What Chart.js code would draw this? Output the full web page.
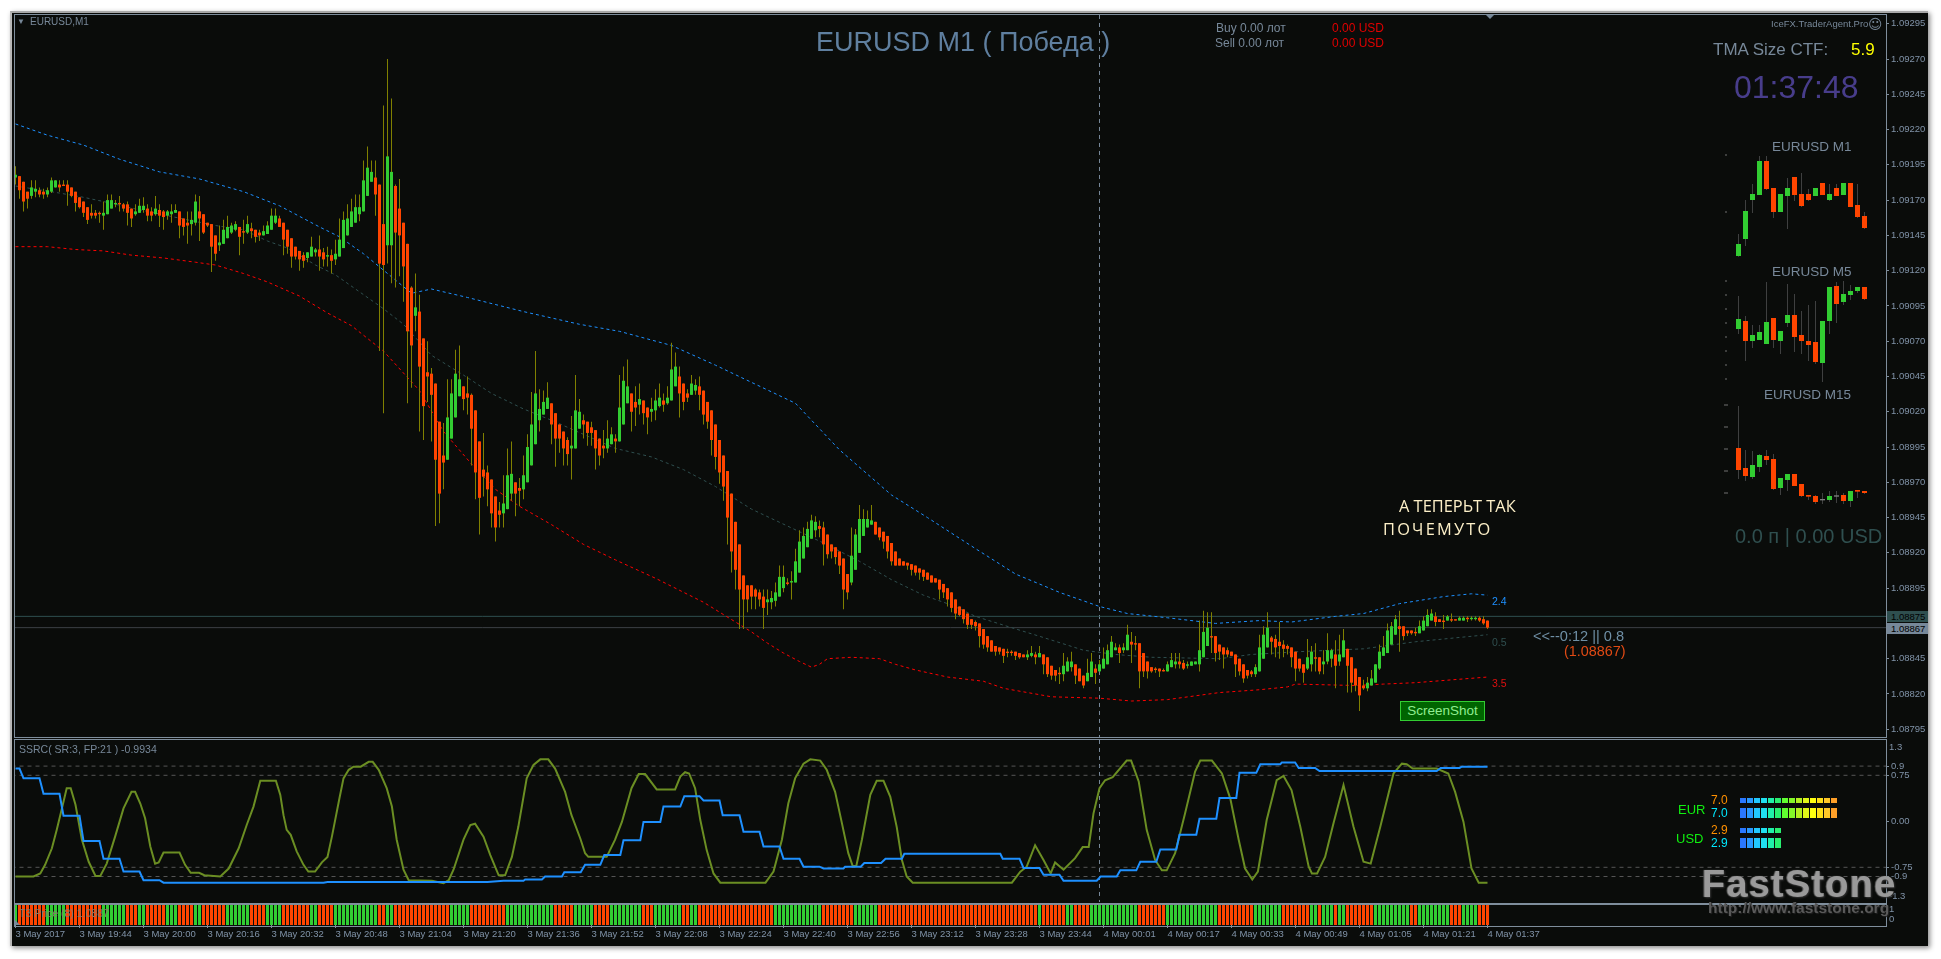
<!DOCTYPE html>
<html lang="en">
<head>
    <meta charset="UTF-8">
    <title>EURUSD M1</title>
    <script src="https://cdn.jsdelivr.net/npm/chart.js@4"></script>
    <style>
        html, body { margin: 0; background: #fff; overflow: hidden; }
        #page { position: relative; width: 1941px; height: 959px; font-family: "Liberation Sans", sans-serif; }
        #window { position: absolute; left: 10px; top: 11px; width: 1918px; height: 935px; background: #0a0c0a;
                  border-top: 2px solid #a8a8a8; border-left: 2px solid #b8b8b8; box-sizing: border-box;
                  box-shadow: 2px 2px 5px #8a8a8a; }
        .panel { position: absolute; left: 14px; width: 1871px; border: 1px solid #7f8e9c; }
        canvas { position: absolute; }
        .t { position: absolute; white-space: nowrap; line-height: 1; transform: translateY(-50%); }
        .axis { color: #8093a8; font-size: 9.5px; }
        .dim { color: #778899; }
        #shot { position: absolute; left: 1400px; top: 701px; width: 85px; height: 20px; box-sizing: border-box;
                background: #006400; border: 1px solid #32cd32; color: #90ee90; font-size: 13.5px; line-height: 18px; text-align: center; }
        .tag { position: absolute; left: 1887px; width: 41px; height: 11px; color: #000; font-size: 9.5px; line-height: 11px; padding-left: 4px; box-sizing: border-box; }
        #mark { color: #9a9a9a; font-size: 38px; font-weight: bold; letter-spacing: 1.2px; text-shadow: 1px 1px 2px #333, -1px 0 1px #777; }
        #url { color: #5a5a5a; font-size: 15.5px; font-weight: bold; text-shadow: 1px 1px 1px #222; }
    </style>
</head>
<body>
<div id="page">
    <div id="window"></div>
    <div class="panel" style="top:14px;height:722px"></div>
    <div class="panel" style="top:739px;height:163px"></div>
    <div class="panel" style="top:904px;height:21px"></div>

    <canvas id="mainChart" width="1913" height="722" style="left:15px;top:15px"></canvas>
    <canvas id="ssrcChart" width="1913" height="162" style="left:15px;top:740px"></canvas>
    <canvas id="t3Chart" width="1913" height="40" style="left:15px;top:905px"></canvas>
    <canvas id="miniM1" width="160" height="110" style="left:1720px;top:150px"></canvas>
    <canvas id="miniM5" width="160" height="107" style="left:1720px;top:277px"></canvas>
    <canvas id="miniM15" width="160" height="109" style="left:1720px;top:403px"></canvas>
    <canvas id="strengthChart" width="115" height="56" style="left:1735px;top:795px"></canvas>

    <div class="t dim" style="left:17px;top:22px;font-size:8px">▼</div>
    <div class="t dim" style="left:30px;top:22px;font-size:10px">EURUSD,M1</div>
    <div class="t" style="left:816px;top:42px;font-size:27px;color:#5f7f9f">EURUSD M1 ( Победа )</div>
    <div class="t dim" style="left:1216px;top:28px;font-size:12px">Buy 0.00 лот</div>
    <div class="t dim" style="left:1215px;top:43px;font-size:12px">Sell 0.00 лот</div>
    <div class="t" style="left:1332px;top:28px;font-size:12px;color:#e00000">0.00 USD</div>
    <div class="t" style="left:1332px;top:43px;font-size:12px;color:#e00000">0.00 USD</div>
    <div class="t dim" style="left:1771px;top:24px;font-size:9.5px">IceFX.TraderAgent.Pro</div>
    <div class="t dim" style="left:1868px;top:24px;font-size:14px;font-family:'DejaVu Sans'">☺</div>
    <div class="t dim" style="left:1713px;top:49px;font-size:17px">TMA Size CTF:</div>
    <div class="t" style="left:1851px;top:49px;font-size:17px;color:#ffff00">5.9</div>
    <div class="t" style="left:1734px;top:87px;font-size:32px;color:#483d8b">01:37:48</div>
    <div class="t dim" style="left:1772px;top:147px;font-size:13.5px">EURUSD M1</div>
    <div class="t dim" style="left:1772px;top:272px;font-size:13.5px">EURUSD M5</div>
    <div class="t dim" style="left:1764px;top:395px;font-size:13.5px">EURUSD M15</div>
    <div class="t" style="left:1735px;top:536px;font-size:20px;color:#2f4f4f">0.0 п | 0.00 USD</div>

    <div class="t" style="left:1399px;top:506px;font-size:16.4px;color:#fdf0c8;font-family:'Open Sans'">А ТЕПЕРЬТ ТАК</div>
    <div class="t" style="left:1383px;top:529px;font-size:16.4px;letter-spacing:2.2px;color:#fdf0c8;font-family:'Open Sans'">ПОЧЕМУТО</div>
    <div class="t" style="left:1492px;top:601px;font-size:10.5px;color:#1e90ff">2.4</div>
    <div class="t" style="left:1492px;top:642px;font-size:10.5px;color:#2f4f4f">0.5</div>
    <div class="t" style="left:1492px;top:683px;font-size:10.5px;color:#e01010">3.5</div>
    <div class="t" style="left:1533px;top:636px;font-size:14.6px;color:#6f8fa5">&lt;&lt;--0:12 || 0.8</div>
    <div class="t" style="left:1564px;top:651px;font-size:14.4px;color:#e04a14">(1.08867)</div>
    <div id="shot">ScreenShot</div>

    <div class="tag" style="top:611px;background:#2f4f4f">1.08875</div>
    <div class="tag" style="top:623px;background:#778899">1.08867</div>

    <div class="t dim" style="left:19px;top:749px;font-size:10.5px">SSRC( SR:3, FP:21 ) -0.9934</div>
    <div class="t" style="left:19px;top:913px;font-size:10.5px;color:#8a7a6a">T3 Price (8) 1.0887</div>
    <div class="t axis" style="left:1889px;top:747px">1.3</div>
    <div class="t axis" style="left:1889px;top:896px">-1.3</div>
    <div class="t axis" style="left:1889px;top:909px">1</div>
    <div class="t axis" style="left:1889px;top:919px">0</div>

    <div class="t" style="left:1678px;top:809px;font-size:13px;color:#10f010">EUR</div>
    <div class="t" style="left:1676px;top:838px;font-size:13px;color:#10f010">USD</div>
    <div class="t" style="left:1711px;top:800px;font-size:12px;color:#ff9000" id="eurTop"></div>
    <div class="t" style="left:1711px;top:813px;font-size:12px;color:#00e8ff" id="eurBottom"></div>
    <div class="t" style="left:1711px;top:830px;font-size:12px;color:#ff9000" id="usdTop"></div>
    <div class="t" style="left:1711px;top:843px;font-size:12px;color:#00e8ff" id="usdBottom"></div>

    <div class="t" id="mark" style="left:1702px;top:884px">FastStone</div>
    <div class="t" id="url" style="left:1708px;top:908px">http://www.faststone.org</div>

    <div style="position:absolute;left:1486px;top:15px;border-left:4px solid transparent;border-right:4px solid transparent;border-top:4px solid #778899"></div>
    <div style="position:absolute;left:15px;top:920px;border-left:5px solid #778899;border-top:5px solid transparent"></div>
</div>

<script type="text/javascript">
    // candle prices in points above 1.08000
    const opens = [
        1186,1187,1183,1176,1173,1176,1177,1176,1174,1176, 1179,1181,1181,1181,1179,1176,1172,1169,1165,1161,
        1161,1161,1159,1160,1164,1167,1168,1167,1167,1164, 1160,1161,1163,1164,1162,1160,1163,1162,1159,1160,
        1161,1162,1157,1154,1153,1154,1162,1160,1154,1153, 1145,1138,1139,1143,1147,1149,1151,1148,1147,1150,
        1149,1147,1145,1146,1149,1154,1157,1154,1149,1143, 1137,1134,1131,1129,1130,1133,1135,1133,1130,1131,
        1128,1130,1136,1145,1151,1154,1160,1162,1173,1183, 1186,1181,1153,1138,1138,1180,1164,1154,1139,1108,
        1088,1091,1072,1048,1047,1040,1013,989,986,1001, 1016,1031,1038,1033,1032,1021,999,979,977,972,
        960,950,948,951,962,970,966,965,970,982, 997,1014,1018,1022,1026,1019,1011,1006,1000,994,
        994,1008,1014,1013,1009,1007,1001,996,994,997, 1001,999,1011,1026,1033,1027,1025,1028,1023,1020,
        1021,1024,1028,1026,1028,1038,1045,1040,1033,1032, 1035,1038,1035,1027,1021,1011,1000,989,978,962,
        942,926,904,897,897,894,892,889,885,885, 886,889,895,899,899,899,906,916,924,930,
        936,939,938,933,926,924,921,916,905,899, 908,920,932,938,940,942,938,935,932,927,
        921,916,914,913,912,911,909,908,906,904, 902,901,898,895,892,887,882,880,877,873,
        871,870,866,861,858,854,853,852,850,850, 850,849,848,846,847,848,846,848,846,840,
        837,835,834,836,839,841,838,833,829,832, 838,836,838,841,846,851,853,851,851,857,
        856,856,849,843,839,838,838,837,836,839, 841,843,842,840,840,841,841,846,854,861,
        861,855,853,851,850,848,845,841,837,836, 834,836,845,853,860,859,857,855,854,853,
        850,845,841,838,841,846,846,841,843,845, 848,843,846,852,846,838,832,826,824,826,
        828,838,847,849,855,862,868,868,865,865, 864,863,865,868,872,875,873,872,872,873,
        873,872,872,874,873,873,874,873,872
    ];
    const closes = [
        1188,1177,1169,1171,1179,1178,1174,1174,1177,1184, 1184,1179,1180,1176,1173,1168,1165,1161,1156,1159,
        1159,1160,1161,1170,1170,1168,1167,1164,1161,1157, 1162,1166,1166,1159,1159,1164,1159,1158,1162,1162,
        1163,1152,1151,1152,1156,1169,1157,1147,1152,1137, 1132,1140,1149,1151,1152,1153,1144,1147,1153,1148,
        1144,1145,1148,1152,1159,1159,1151,1142,1137,1130, 1130,1128,1127,1133,1137,1135,1130,1128,1131,1127,
        1132,1142,1156,1157,1162,1165,1165,1184,1193,1190, 1174,1125,1124,1201,1190,1147,1145,1123,1077,1067,
        1094,1052,1024,1045,1032,986,962,984,1016,1033, 1047,1043,1029,1030,1008,977,959,974,965,948,
        938,947,955,975,976,962,964,975,995,1011, 1033,1022,1027,1030,1011,1001,1001,994,990,996,
        1021,1020,1011,1005,1005,994,989,994,1001,1004, 999,1023,1042,1038,1020,1023,1029,1019,1016,1022,
        1028,1030,1025,1030,1050,1052,1033,1027,1030,1040, 1039,1032,1018,1013,1000,988,977,967,945,921,
        908,894,887,887,889,889,887,881,887,888, 892,903,903,898,900,914,928,932,937,943,
        942,937,926,919,921,917,911,894,892,918, 933,944,944,944,943,933,931,928,921,914,
        911,911,911,911,908,906,906,903,901,899, 899,894,892,887,881,877,876,873,869,869,
        868,861,855,853,850,850,850,847,849,849, 847,846,846,848,849,846,849,841,834,833,
        833,834,840,843,843,833,829,826,835,843, 835,841,845,851,857,853,849,853,862,855,
        855,836,836,836,836,837,836,836,841,844, 843,841,838,841,843,843,851,864,867,860,
        849,850,848,848,847,841,836,831,833,834, 839,853,862,867,857,853,854,852,852,846,
        838,838,835,846,850,845,836,843,851,851, 840,848,858,840,828,826,819,824,828,831,
        841,850,853,865,868,873,866,861,863,863, 863,868,872,876,877,871,871,871,875,872,
        872,874,874,873,874,874,872,870,867
    ];
    const highs = [
        1194,1187,1183,1176,1184,1184,1179,1178,1179,1186, 1184,1184,1184,1184,1179,1176,1172,1169,1165,1167,
        1163,1162,1169,1174,1174,1170,1173,1168,1169,1164, 1167,1171,1172,1167,1165,1173,1167,1163,1163,1167,
        1167,1162,1157,1162,1162,1174,1173,1160,1154,1153, 1145,1152,1156,1159,1154,1155,1151,1156,1159,1154,
        1149,1149,1152,1155,1164,1164,1159,1154,1149,1143, 1137,1134,1133,1133,1144,1136,1145,1136,1137,1135,
        1142,1157,1162,1167,1171,1174,1174,1198,1208,1198, 1198,1181,1237,1270,1242,1181,1185,1154,1139,1109,
        1118,1103,1072,1070,1051,1040,1013,1012,1043,1043, 1064,1067,1038,1045,1033,1021,999,1005,982,972,
        960,956,975,994,999,970,973,989,1004,1034, 1063,1036,1035,1041,1026,1019,1011,1006,1002,1017,
        1046,1029,1018,1013,1013,1007,1001,1007,1014,1009, 1004,1046,1052,1057,1033,1038,1040,1028,1023,1030,
        1036,1040,1033,1038,1069,1062,1052,1040,1036,1046, 1043,1045,1035,1027,1021,1011,1000,989,978,962,
        942,926,904,897,897,895,894,894,894,893, 899,911,911,902,907,923,936,938,942,947,
        946,943,942,933,926,924,921,916,905,938, 937,954,951,950,954,942,938,935,932,927,
        921,916,914,913,912,911,909,908,906,904, 902,901,898,895,892,887,882,880,877,873,
        872,870,866,861,858,854,853,852,852,851, 850,849,848,851,854,850,854,848,846,840,
        837,839,849,846,850,841,838,833,845,849, 841,844,853,855,861,856,855,856,869,864,
        861,856,849,843,839,839,838,838,843,849, 849,849,844,843,843,843,872,879,878,878,
        861,855,853,853,850,848,845,841,837,837, 841,862,868,878,861,862,871,858,855,853,
        850,845,841,859,854,856,846,851,863,852, 858,862,866,852,846,838,832,830,832,837,
        841,855,861,870,871,876,879,868,865,865, 867,872,875,880,880,878,873,876,876,877,
        873,875,875,875,875,875,875,875,872
    ];
    const lows = [
        1181,1171,1162,1164,1171,1172,1172,1171,1172,1175, 1179,1176,1180,1166,1172,1162,1164,1158,1153,1157,
        1157,1154,1149,1160,1164,1165,1162,1162,1152,1151, 1159,1161,1161,1155,1155,1159,1151,1149,1156,1154,
        1161,1143,1145,1139,1145,1152,1141,1146,1151,1119, 1127,1134,1139,1143,1146,1148,1131,1139,1146,1143,
        1140,1141,1145,1146,1149,1153,1151,1131,1132,1122, 1128,1120,1122,1126,1130,1130,1120,1123,1123,1118,
        1124,1130,1136,1145,1151,1154,1155,1162,1173,1183, 1159,1063,1019,1125,1111,1108,1116,1098,1026,1037,
        1077,1006,1000,1027,999,939,941,965,986,1001, 1016,1031,1021,1018,982,958,933,960,953,938,
        928,938,938,951,957,946,953,958,970,982, 997,1006,1018,1022,997,981,991,982,982,972,
        994,1008,1001,996,996,979,982,987,991,997, 991,999,1011,1026,1006,1010,1018,1011,1004,1013,
        1014,1023,1020,1025,1028,1038,1016,1021,1027,1032, 1032,1021,1011,1008,989,979,969,957,926,906,
        894,866,866,878,880,880,882,866,876,880, 882,889,892,897,887,899,906,916,924,930,
        931,931,911,916,916,912,905,880,887,897, 908,920,932,938,940,933,929,923,916,911,
        911,911,911,908,904,904,901,900,901,899, 899,887,888,882,878,873,875,870,866,866,
        865,853,852,850,850,847,848,842,846,847, 844,845,846,844,846,841,846,834,832,830,
        829,827,829,836,836,827,829,824,829,832, 827,836,838,841,846,851,842,849,851,842,
        851,824,832,831,835,835,832,836,836,839, 838,838,837,838,840,841,836,846,854,849,
        843,844,838,846,847,832,833,828,831,832, 832,836,845,853,848,846,845,846,848,839,
        829,836,828,837,836,836,834,834,841,839, 824,840,846,821,821,822,808,823,822,826,
        828,837,847,849,855,862,850,858,861,862, 861,863,865,868,872,868,871,866,872,871,
        872,872,872,871,872,872,871,869,866
    ];

    // envelope lines: bar numbers and points above 1.08000
    const upperBars = [0,8,17,26,36,46,57,66,76,81,87,93,99,104,113,127,141,151,164,175,195,206,219,228,240,250,261,271,278,288,300,311,319,330,337,346,357,364,368];
    const upperBand = [1224,1216,1209,1199,1190,1185,1176,1166,1151,1144,1132,1118,1104,1107,1101,1091,1082,1077,1067,1053,1026,993,961,945,923,905,892,882,877,874,870,872,871,875,877,884,889,891,890];
    const middleBars = [0,11,17,22,28,38,43,50,57,63,68,75,80,85,92,97,104,112,119,127,134,142,150,159,167,175,184,193,202,211,219,227,234,240,249,257,267,275,284,301,309,321,337,350,368];
    const middleBand = [1180,1175,1172,1169,1165,1159,1156,1152,1149,1141,1136,1124,1117,1107,1093,1082,1060,1046,1033,1022,1014,1004,994,988,979,967,951,939,927,914,901,890,883,875,867,860,851,848,846,845,848,850,852,857,862];
    const lowerBars = [0,8,15,22,29,37,45,50,57,63,71,78,84,92,101,107,114,120,126,134,142,150,160,172,184,188,192,196,199,201,203,209,216,220,225,233,242,247,253,259,271,279,288,301,311,318,320,335,342,350,359,368];
    const lowerBand = [1137,1137,1135,1134,1131,1129,1126,1124,1118,1112,1102,1090,1081,1063,1035,1006,983,965,953,940,926,915,902,885,864,856,849,843,839,841,845,846,845,841,837,832,829,824,821,818,817,815,816,821,823,825,827,826,827,828,830,832];

    const priceLevels = [1.08875, 1.08867];
    const cursorBar = 271;
    const priceTicks = [1.09295,1.09270,1.09245,1.09220,1.09195,1.09170,1.09145,1.09120,1.09095,1.09070,1.09045,1.09020,1.08995,1.08970,1.08945,1.08920,1.08895,1.08845,1.08820,1.08795];

    // oscillator pane
    const ssrcTicks = [0.9, 0.75, 0, -0.75, -0.9];
    const ssrcTickLabels = ["0.9", "0.75", "0.00", "-0.75", "-0.9"];
    const ssrcLevels = [0.9, 0.75, -0.75, -0.9];
    const signalBars = [0,4.5,6.2,7.4,9.1,10.3,11.6,12.8,13.8,15,16.6,18.3,20,21.2,22.8,24.9,27,29,29.9,31.2,32.4,33.7,34.9,35.8,37,41,42.4,43.8,45.9,47.2,51.2,53.3,55.8,57.8,59.5,61.2,65.1,66.2,67,67.8,68.8,70.3,72,73.2,74.9,76.6,78,79.1,81,82,83.3,84.5,86.3,88.3,89.3,90.8,92.8,94.1,95.3,97,98.3,104.1,107,108.3,109.5,112,113.7,114.9,117,118.7,120.8,122.4,124.1,125.7,127.8,129.5,131.2,133.2,134.9,137.4,139,141.2,142.4,143.2,147.8,149.9,151.6,154,155.8,157.4,160.3,164.9,166.2,167.4,168.4,169.9,171.2,172.8,174.5,176.2,187.5,189.5,191.6,193.2,194.9,197,198.7,201.2,202.8,204.9,206.6,208.2,209.3,210.2,211.6,213.7,215.3,217,218.7,220.3,221.6,222.8,224.3,246,249.1,251.2,252.8,254.9,257,258.8,259.9,262,264.9,266.8,268.3,269.5,271,272.4,274.3,277.8,278.9,280.8,282.8,284.9,286.6,287.8,289.9,292.4,294.9,296.2,299.1,301.6,303.7,305.8,307.4,309.2,310.6,312.8,315.3,317,319,321.2,323.3,324.1,325.4,327.4,329.5,332,334.5,337,338.8,341.2,344.5,346.6,347.8,349.3,355.3,358.2,359.9,362,364,365.8,368];
    const signalLine = [-0.9,-0.9,-0.85,-0.71,-0.44,-0.14,0.21,0.54,0.54,0.27,-0.3,-0.66,-0.89,-0.89,-0.69,-0.25,0.21,0.48,0.48,0.29,0.05,-0.41,-0.69,-0.67,-0.51,-0.51,-0.71,-0.84,-0.84,-0.88,-0.9,-0.77,-0.44,-0.06,0.24,0.66,0.66,0.43,0.1,-0.14,-0.22,-0.49,-0.71,-0.82,-0.82,-0.67,-0.58,-0.25,0.38,0.7,0.84,0.89,0.89,0.97,0.97,0.84,0.54,0.24,-0.3,-0.79,-0.96,-0.97,-1.01,-0.96,-0.79,-0.3,-0.06,-0.04,-0.25,-0.55,-0.88,-0.88,-0.58,-0.09,0.7,0.92,1.01,1.01,0.86,0.48,0.1,-0.28,-0.52,-0.58,-0.58,-0.3,-0.01,0.54,0.77,0.77,0.52,0.52,0.73,0.8,0.78,0.54,0.02,-0.47,-0.85,-1,-1,-0.82,-0.3,0.29,0.7,0.94,1.01,0.99,0.84,0.48,-0.03,-0.52,-0.73,-0.73,-0.3,0.43,0.66,0.66,0.4,-0.09,-0.63,-0.9,-1,-1,-1,-0.82,-0.74,-0.39,-0.63,-0.85,-0.67,-0.79,-0.6,-0.42,-0.42,0.13,0.54,0.67,0.72,0.99,0.99,0.65,-0.14,-0.63,-0.8,-0.8,-0.52,0.13,0.81,0.99,0.99,0.78,0.37,-0.3,-0.77,-0.95,-0.82,0.02,0.67,0.74,0.51,-0.09,-0.74,-0.85,-0.85,-0.58,-0.03,0.59,-0.09,-0.66,-0.69,-0.09,0.78,0.94,0.93,0.86,0.86,0.78,0.48,-0.01,-0.77,-1,-1];
    const trendBars = [0,1,2,6,7,11,12,16,17,21,22,26,27,31,32,36,37,77,78,118,122,127,127.4,131.6,132.4,136.6,137.2,141.3,142.4,146.2,147.2,151.2,152,156.2,157,161.2,162,166.2,167.2,171,172,176,176.8,181,182,186,187,191,192,196,197,201,202,207,207.4,211.3,212.2,216.4,217.5,221.6,222.2,246.2,246.8,251,252,256,257,261,262,270.3,271.3,275.3,276.2,280.2,281.2,285.2,286.2,290.2,291,295.2,296,300.2,301,305.2,306,310.2,311.2,316.2,316.6,319.9,320.8,324.9,326,355.3,356.3,361,361.6,368];
    const trendLine = [0.86,0.86,0.7,0.7,0.45,0.45,0.09,0.09,-0.32,-0.32,-0.61,-0.61,-0.82,-0.82,-0.96,-0.96,-1,-1,-0.99,-0.99,-0.97,-0.97,-0.95,-0.95,-0.9,-0.9,-0.83,-0.83,-0.71,-0.71,-0.55,-0.55,-0.31,-0.31,-0.01,-0.01,0.24,0.24,0.41,0.41,0.34,0.34,0.1,0.1,-0.17,-0.17,-0.41,-0.41,-0.61,-0.61,-0.74,-0.74,-0.77,-0.77,-0.74,-0.74,-0.68,-0.68,-0.61,-0.61,-0.53,-0.53,-0.61,-0.61,-0.76,-0.76,-0.87,-0.87,-0.97,-0.97,-0.9,-0.9,-0.8,-0.8,-0.66,-0.66,-0.46,-0.46,-0.22,-0.22,0.04,0.04,0.38,0.38,0.79,0.79,0.93,0.93,0.96,0.96,0.87,0.87,0.82,0.82,0.87,0.87,0.89,0.89];

    // T3 strip: run lengths of rising and falling bars, rising first
    const t3Runs = [1,7,5,9,6,3,2,5,3,4,2,6,6,4,4,7,2,4,11,2,2,14,5,9,12,5,5,4,8,3,7,2,2,19,12,8,6,40,1,6,2,4,12,7,13,9,7,7,2,1,3,1,2,7,9,2,8,3,4,3];

    const timeTickBars = [0,16,32,48,64,80,96,112,128,144,160,176,192,208,224,240,256,272,288,304,320,336,352,368];
    const timeLabels = ["3 May 2017","3 May 19:44","3 May 20:00","3 May 20:16","3 May 20:32","3 May 20:48","3 May 21:04","3 May 21:20","3 May 21:36","3 May 21:52","3 May 22:08","3 May 22:24","3 May 22:40","3 May 22:56","3 May 23:12","3 May 23:28","3 May 23:44","4 May 00:01","4 May 00:17","4 May 00:33","4 May 00:49","4 May 01:05","4 May 01:21","4 May 01:37"];

    // small multi-timeframe charts, relative price units
    const m1Opens = [12,63,180,195,297,216,144,192,249,198,198,192,231,180,216,195,231,165,132];
    const m1Closes = [48,147,198,297,213,144,198,216,195,162,180,216,195,198,192,231,159,129,96];
    const m1Highs = [78,180,228,312,312,216,198,246,249,261,213,216,231,228,228,231,231,228,144];
    const m1Lows = [10,42,141,195,210,126,144,93,177,159,177,192,195,177,192,195,159,126,93];
    const m1Marks = [315,144];
    const m5Opens = [163,187,127,130,118,196,127,181,205,145,127,124,61,187,292,244,265,277,289];
    const m5Closes = [193,127,145,154,184,130,157,205,139,127,115,64,187,289,238,268,277,289,253];
    const m5Highs = [262,202,175,175,304,196,157,298,268,217,235,247,187,289,304,307,295,289,289];
    const m5Lows = [148,67,106,130,118,106,88,169,94,88,67,58,4,148,181,235,250,271,250];
    const m5Marks = [307,265,223,181,139,97,55,13];
    const m15Opens = [186,126,99,129,162,153,66,90,108,78,45,42,31,30,42,45,27,60,57];
    const m15Closes = [120,102,135,165,150,63,96,108,72,42,40,24,31,42,42,27,57,55,51];
    const m15Highs = [312,180,177,168,180,168,96,108,108,78,45,45,51,57,57,51,57,60,57];
    const m15Lows = [93,87,93,114,135,60,45,57,72,39,30,18,18,24,21,18,9,36,48];
    const m15Marks = [315,249,183,117,51];

    // currency strength meter
    const eurStrength = 7.0;
    const usdStrength = 2.9;
    const strengthColors = ["#2a78ff","#2a98ff","#22c8ff","#20e0f0","#20f0a8","#28f070","#60ff30","#84f828","#b4f020","#e0f818","#ffff10","#ffe018","#ffc828","#ffa028"];

    const UP = "#32cd32", DOWN = "#ff4500", WICK = "#808000", AXIS = "#8093a8", LINE = "#7f8e9c";
    const FONT = { family: "Liberation Sans", size: 9.5 };

    const px = p => 1.08 + p / 100000;
    const fixBox = (width, height) => s => {
        if (width) s.width = width;
        if (height) s.height = height;
        s.paddingLeft = s.paddingRight = s.paddingTop = s.paddingBottom = 0;
    };

    // x runs so that bar n sits at 15.5 + 4n on the page
    const barAxis = { type: "linear", display: false, bounds: "data", offset: false, min: -0.125, max: -0.125 + 1871 / 4, grid: { display: false } };

    function verticalAxis(min, max, ticks, label) {
        return {
            position: "right", bounds: "data", min: min, max: max,
            afterBuildTicks: s => { s.ticks = ticks.map(v => ({ value: v })); },
            afterFit: fixBox(42),
            border: { color: LINE },
            grid: { drawOnChartArea: false, tickLength: 3, tickColor: LINE },
            ticks: { color: AXIS, font: FONT, padding: 2, autoSkip: false, crossAlign: "near", callback: label }
        };
    }

    function pairs(xs, ys, conv) {
        return xs.map((x, i) => ({ x: x, y: conv ? conv(ys[i]) : ys[i] }));
    }

    function lineSet(data, color, width, dash, order) {
        return { type: "line", data: data, borderColor: color, borderWidth: width, borderDash: dash || [], pointRadius: 0, tension: 0, order: order === undefined ? 5 : order };
    }

    // with grouped:false the width comes from maxBarThickness
    function candleSets(o, h, l, c, conv, bodyWidth, wickColor) {
        const f = conv || (v => v);
        const wicks = o.map((_, i) => ({ x: i, y: [f(l[i]), f(h[i])] }));
        const bodies = o.map((_, i) => ({ x: i, y: o[i] === c[i] ? [f(o[i] - 2), f(o[i] + 2)] : [f(o[i]), f(c[i])] }));
        const colors = o.map((_, i) => c[i] > o[i] ? UP : c[i] < o[i] ? DOWN : "#808080");
        return [
            { type: "bar", data: wicks, backgroundColor: wickColor, barThickness: 1, maxBarThickness: 1, grouped: false, inflateAmount: 0, order: 2 },
            { type: "bar", data: bodies, backgroundColor: colors, barThickness: bodyWidth, maxBarThickness: bodyWidth, grouped: false, inflateAmount: 0, order: 1 }
        ];
    }

    // autoPadding off: line overflow must not shrink the plot area
    const baseOptions = { responsive: false, animation: false, events: [], plugins: { legend: { display: false }, tooltip: { enabled: false } }, layout: { padding: 0, autoPadding: false } };

    new Chart("mainChart", {
        type: "bar",
        data: {
            datasets: [
                ...candleSets(opens, highs, lows, closes, px, 3, WICK),
                lineSet(pairs(upperBars, upperBand, px), "#1e90ff", 1, [3, 3]),
                lineSet(pairs(middleBars, middleBand, px), "#2f4f4f", 1, [3, 3]),
                lineSet(pairs(lowerBars, lowerBand, px), "#ff0000", 1, [3, 3]),
                lineSet([{ x: -1, y: priceLevels[0] }, { x: 468, y: priceLevels[0] }], "#2f5050", 1, [], 6),
                lineSet([{ x: -1, y: priceLevels[1] }, { x: 468, y: priceLevels[1] }], "#3c4045", 1, [], 6),
                lineSet([{ x: cursorBar, y: 1.08 }, { x: cursorBar, y: 1.10 }], "#778899", 1, [4, 4], 6)
            ]
        },
        options: {
            ...baseOptions,
            scales: {
                x: barAxis,
                y: verticalAxis(1.087895, 1.093012, priceTicks, v => v.toFixed(5))
            }
        }
    });

    new Chart("ssrcChart", {
        type: "line",
        data: {
            datasets: [
                ...ssrcLevels.map(v => lineSet([{ x: -1, y: v }, { x: 468, y: v }], "#555555", 1, [4, 4], 6)),
                lineSet([{ x: cursorBar, y: -2 }, { x: cursorBar, y: 2 }], "#778899", 1, [4, 4], 6),
                lineSet(pairs(signalBars, signalLine), "#6b8e23", 2, [], 2),
                lineSet(pairs(trendBars, trendLine), "#1e90ff", 2, [], 1)
            ]
        },
        options: {
            ...baseOptions,
            scales: {
                x: barAxis,
                y: verticalAxis(-1.3158, 1.3256, ssrcTicks, (v, i) => ssrcTickLabels[i])
            }
        }
    });

    const t3Colors = [];
    t3Runs.forEach((run, k) => { for (let n = 0; n < run; n++) t3Colors.push(k % 2 ? DOWN : UP); });

    new Chart("t3Chart", {
        type: "bar",
        data: {
            datasets: [{
                data: t3Colors.map((_, i) => ({ x: i, y: 1 })),
                backgroundColor: t3Colors,
                barThickness: 3,
                inflateAmount: 0
            }]
        },
        options: {
            ...baseOptions,
            layout: { padding: { right: 42 }, autoPadding: false },
            scales: {
                x: {
                    type: "linear", bounds: "data", offset: false, min: -0.125, max: -0.125 + 1871 / 4,
                    afterBuildTicks: s => { s.ticks = timeTickBars.map(v => ({ value: v })); },
                    afterFit: fixBox(0, 20),
                    border: { display: false },
                    grid: { drawOnChartArea: false, offset: false, tickLength: 3, tickColor: LINE },
                    ticks: { color: AXIS, font: FONT, padding: 1, align: "start", autoSkip: false, maxRotation: 0, callback: (v, i) => timeLabels[i] }
                },
                y: { display: false, min: 0, max: 1 }
            }
        }
    });

    function miniChart(id, o, h, l, c, marks, min, max, markStyle) {
        const xMin = -18.5 / 7;
        new Chart(id, {
            type: "bar",
            data: {
                datasets: [
                    ...candleSets(o, h, l, c, null, 5, "#3f4040"),
                    { type: "line", showLine: false, data: marks.map(v => ({ x: -12.5 / 7, y: v })), pointStyle: "line", pointRadius: markStyle || 1, pointBorderColor: "#707070", pointBorderWidth: 1 }
                ]
            },
            options: {
                ...baseOptions,
                scales: {
                    x: { type: "linear", display: false, bounds: "data", offset: false, min: xMin, max: xMin + 160 / 7 },
                    y: { display: false, bounds: "data", min: min, max: max }
                }
            }
        });
    }
    miniChart("miniM1", m1Opens, m1Highs, m1Lows, m1Closes, m1Marks, 0, 330);
    miniChart("miniM5", m5Opens, m5Highs, m5Lows, m5Closes, m5Marks, -2, 319);
    miniChart("miniM15", m15Opens, m15Highs, m15Lows, m15Closes, m15Marks, -6, 321, 2);

    // four rows of cells, thin and thick for each currency; two cells per strength unit
    function strengthRow(level, from, to) {
        const cells = Math.round(level * 2);
        return {
            data: strengthColors.slice(0, cells).map((_, i) => ({ x: i, y: [from, to] })),
            backgroundColor: strengthColors.slice(0, cells),
            barThickness: 6, maxBarThickness: 6, grouped: false, inflateAmount: 0
        };
    }
    new Chart("strengthChart", {
        type: "bar",
        data: {
            datasets: [
                strengthRow(eurStrength, 3, 8),
                strengthRow(eurStrength, 13, 23),
                strengthRow(usdStrength, 33, 38),
                strengthRow(usdStrength, 43, 53)
            ]
        },
        options: {
            ...baseOptions,
            scales: {
                x: { type: "linear", display: false, bounds: "data", offset: false, min: -8 / 7, max: -8 / 7 + 115 / 7 },
                y: { display: false, reverse: true, min: 0, max: 56 }
            }
        }
    });
    document.getElementById("eurTop").textContent = eurStrength.toFixed(1);
    document.getElementById("eurBottom").textContent = eurStrength.toFixed(1);
    document.getElementById("usdTop").textContent = usdStrength.toFixed(1);
    document.getElementById("usdBottom").textContent = usdStrength.toFixed(1);
</script>
</body>
</html>
